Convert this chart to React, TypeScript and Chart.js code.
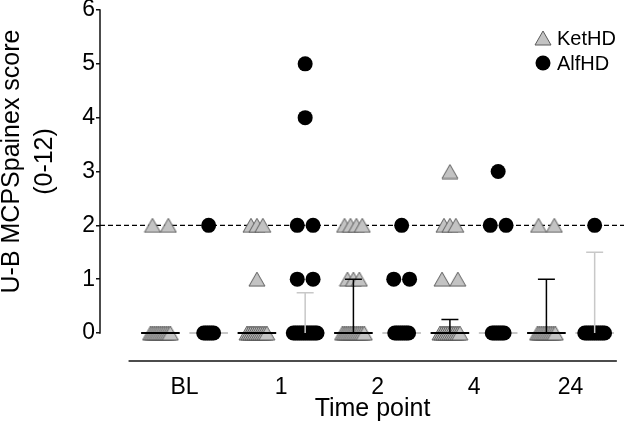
import React, { useEffect, useRef } from 'react';
import { Chart, registerables } from 'chart.js';

Chart.register(...registerables);

// ---------- data ----------
const timePoints = ['BL', '1', '2', '4', '24'];
const yTickValues = [0, 1, 2, 3, 4, 5, 6];
const thresholdScore = 2;
const seriesLabels = ['KetHD', 'AlfHD'];
const yTitleLines = ['U-B MCPSpainex score', '(0-12)'];
const xTitle = 'Time point';

// individual scores per time point, KetHD
const ketBL = [2, 2, 0, 0, 0, 0, 0, 0, 0, 0, 0, 0, 0];
const ket1 = [2, 2, 2, 1, 0, 0, 0, 0, 0, 0, 0, 0, 0, 0, 0];
const ket2 = [2, 2, 2, 2, 1, 1, 1, 0, 0, 0, 0, 0, 0, 0, 0, 0, 0, 0, 0];
const ket4 = [3, 2, 2, 2, 1, 1, 0, 0, 0, 0, 0, 0, 0, 0, 0, 0, 0];
const ket24 = [2, 2, 0, 0, 0, 0, 0, 0, 0, 0, 0, 0];

// individual scores per time point, AlfHD
const alfBL = [2, 0, 0, 0, 0, 0, 0];
const alf1 = [5, 4, 2, 2, 1, 1, 0, 0, 0, 0, 0, 0, 0, 0, 0, 0, 0, 0, 0];
const alf2 = [2, 1, 1, 0, 0, 0, 0, 0, 0, 0, 0];
const alf4 = [3, 2, 2, 0, 0, 0, 0, 0, 0, 0];
const alf24 = [2, 0, 0, 0, 0, 0, 0, 0, 0, 0, 0, 0];

// median and upper quartile per time point
const ketMedian = [0, 0, 0, 0, 0];
const ketUpperQ = [0, 0, 1, 0.25, 1];
const alfMedian = [0, 0, 0, 0, 0];
const alfUpperQ = [0, 0.75, 0, 0, 1.5];

const ketGroups = [ketBL, ket1, ket2, ket4, ket24];
const alfGroups = [alfBL, alf1, alf2, alf4, alf24];

// ---------- layout ----------
const X_MIN = -0.876;
const X_MAX = 4.554;
const X_AXIS_START = -0.58;
const X_AXIS_END = 4.48;
const Y_MIN = -0.52;
const SERIES_OFFSET = 0.25;
const PX_PER_UNIT = 97.6;
const MEDIAN_HALF = 0.2;
const CAP_HALF = 0.088;
const FONT = '"Liberation Sans", Arial, sans-serif';

function spread(values: number[], center: number) {
  const counts = new Map<number, number>();
  values.forEach((v) => counts.set(v, (counts.get(v) || 0) + 1));
  const seen = new Map<number, number>();
  return values.map((v) => {
    const n = counts.get(v) as number;
    const k = seen.get(v) || 0;
    seen.set(v, k + 1);
    const stepPx = n === 2 ? 16 : n <= 4 ? 6 : 2;
    const span = Math.min((n - 1) * stepPx, 24);
    const off = n === 1 ? 0 : -span / 2 + (k * span) / (n - 1);
    return { x: center + off / PX_PER_UNIT, y: v };
  });
}

function groupPoints(groups: number[][], side: number) {
  const out: { x: number; y: number }[] = [];
  groups.forEach((g, i) => out.push(...spread(g, i + side * SERIES_OFFSET)));
  return out;
}

function medianSegments(med: number[], side: number) {
  const out: { x: number; y: number | null }[] = [];
  med.forEach((m, i) => {
    const c = i + side * SERIES_OFFSET;
    out.push({ x: c - MEDIAN_HALF, y: m }, { x: c + MEDIAN_HALF, y: m }, { x: c, y: null });
  });
  return out;
}

function errorSegments(med: number[], upper: number[], side: number) {
  const out: { x: number; y: number | null }[] = [];
  med.forEach((m, i) => {
    if (upper[i] <= m) return;
    const c = i + side * SERIES_OFFSET;
    out.push({ x: c, y: m }, { x: c, y: upper[i] }, { x: c, y: null });
    out.push({ x: c - CAP_HALF, y: upper[i] }, { x: c + CAP_HALF, y: upper[i] }, { x: c, y: null });
  });
  return out;
}

function makeTriangle() {
  const c = document.createElement('canvas');
  c.width = 18;
  c.height = 16;
  const g = c.getContext('2d') as CanvasRenderingContext2D;
  g.beginPath();
  g.moveTo(9, 1);
  g.lineTo(17, 15);
  g.lineTo(1, 15);
  g.closePath();
  g.fillStyle = '#c3c3c3';
  g.fill();
  g.lineWidth = 1;
  g.strokeStyle = '#5a5a5a';
  g.stroke();
  return c;
}

export default function App() {
  const ref = useRef<HTMLCanvasElement | null>(null);

  useEffect(() => {
    if (!ref.current) return;
    const tri = makeTriangle();

    const decor = {
      id: 'decor',
      beforeDatasetsDraw(chart: any) {
        const { ctx, chartArea, scales } = chart;
        const xs = scales.x;
        const ys = scales.y;
        ctx.save();
        ctx.strokeStyle = '#111';
        ctx.lineWidth = 1.5;
        ctx.beginPath();
        ctx.moveTo(chartArea.left, ys.getPixelForValue(yTickValues[0]) + 0.75);
        ctx.lineTo(chartArea.left, ys.getPixelForValue(yTickValues[yTickValues.length - 1]) - 0.75);
        ctx.stroke();
        ctx.beginPath();
        ctx.moveTo(xs.getPixelForValue(X_AXIS_START), chartArea.bottom);
        ctx.lineTo(xs.getPixelForValue(X_AXIS_END), chartArea.bottom);
        ctx.stroke();
        ctx.restore();
      },
      afterDraw(chart: any) {
        const { ctx, scales } = chart;
        const xs = scales.x;
        const ys = scales.y;
        ctx.save();
        ctx.fillStyle = '#000';
        // y title
        const yc = (ys.getPixelForValue(0) + ys.getPixelForValue(6)) / 2 - 10;
        ctx.font = `25px ${FONT}`;
        ctx.textAlign = 'center';
        ctx.textBaseline = 'middle';
        ctx.save();
        ctx.translate(12, yc);
        ctx.rotate(-Math.PI / 2);
        ctx.fillText(yTitleLines[0], 0, 0);
        ctx.fillText(yTitleLines[1], 0, 33);
        ctx.restore();
        // x title
        const xc = (xs.getPixelForValue(0) + xs.getPixelForValue(timePoints.length - 1)) / 2 - 5;
        ctx.fillText(xTitle, xc, 409);
        // legend
        ctx.font = `20px ${FONT}`;
        ctx.textAlign = 'left';
        ctx.drawImage(tri, 543 - 9, 38 - 8);
        ctx.fillText(seriesLabels[0], 557, 39);
        ctx.beginPath();
        ctx.arc(543, 63, 7.5, 0, Math.PI * 2);
        ctx.fill();
        ctx.fillText(seriesLabels[1], 557, 64);
        ctx.restore();
      },
    };

    const chart = new Chart(ref.current, {
      type: 'scatter',
      data: {
        datasets: [
          {
            label: 'threshold',
            data: [
              { x: X_MIN, y: thresholdScore },
              { x: X_MAX, y: thresholdScore },
            ],
            showLine: true,
            borderColor: '#000',
            borderWidth: 1.3,
            borderDash: [5, 3],
            pointRadius: 0,
            order: 10,
          } as any,
          {
            label: 'AlfHD median',
            data: medianSegments(alfMedian, 1),
            showLine: true,
            spanGaps: false,
            borderColor: '#c8c8c8',
            borderWidth: 2,
            pointRadius: 0,
            order: 9,
          } as any,
          {
            label: seriesLabels[0],
            data: groupPoints(ketGroups, -1),
            pointStyle: tri,
            pointRadius: 8,
            order: 8,
          } as any,
          {
            label: seriesLabels[1],
            data: groupPoints(alfGroups, 1),
            pointStyle: 'circle',
            pointRadius: 7.5,
            backgroundColor: '#000',
            borderColor: '#000',
            borderWidth: 0,
            order: 7,
          } as any,
          {
            label: 'KetHD median',
            data: medianSegments(ketMedian, -1),
            showLine: true,
            spanGaps: false,
            borderColor: '#000',
            borderWidth: 2,
            pointRadius: 0,
            order: 6,
          } as any,
          {
            label: 'KetHD IQR',
            data: errorSegments(ketMedian, ketUpperQ, -1),
            showLine: true,
            spanGaps: false,
            borderColor: '#000',
            borderWidth: 1.5,
            pointRadius: 0,
            order: 5,
          } as any,
          {
            label: 'AlfHD IQR',
            data: errorSegments(alfMedian, alfUpperQ, 1),
            showLine: true,
            spanGaps: false,
            borderColor: '#c8c8c8',
            borderWidth: 1.5,
            pointRadius: 0,
            order: 4,
          } as any,
        ],
      },
      options: {
        responsive: false,
        animation: false,
        events: [],
        layout: { padding: { left: 0, top: 10, right: 3, bottom: 0 } },
        plugins: { legend: { display: false }, tooltip: { enabled: false } },
        scales: {
          x: {
            type: 'linear',
            min: X_MIN,
            max: X_MAX,
            border: { display: false },
            grid: { display: false },
            ticks: {
              padding: 5,
              maxRotation: 0,
              autoSkip: false,
              color: '#000',
              font: { family: FONT, size: 23 },
              callback: (v: any) => timePoints[v as number] ?? '',
            },
            afterBuildTicks: (s: any) => {
              s.ticks = timePoints.map((_, i) => ({ value: i }));
            },
            afterFit: (s: any) => {
              s.height = 63;
              s.paddingLeft = 0;
              s.paddingRight = 0;
            },
          },
          y: {
            type: 'linear',
            min: Y_MIN,
            max: yTickValues[yTickValues.length - 1],
            border: { display: false },
            grid: {
              drawOnChartArea: false,
              drawTicks: true,
              tickLength: 4,
              color: '#111',
              lineWidth: 1.5,
            },
            ticks: {
              padding: 1,
              color: '#000',
              font: { family: FONT, size: 23 },
            },
            afterBuildTicks: (s: any) => {
              s.ticks = yTickValues.map((v) => ({ value: v }));
            },
            afterFit: (s: any) => {
              s.width = 100;
              s.paddingTop = 0;
              s.paddingBottom = 0;
            },
          },
        },
      } as any,
      plugins: [decor],
    });

    return () => chart.destroy();
  }, []);

  return (
    <div style={{ position: 'absolute', left: 0, top: 0, width: 633, height: 424 }}>
      <canvas ref={ref} width={633} height={424} style={{ display: 'block' }} />
    </div>
  );
}
